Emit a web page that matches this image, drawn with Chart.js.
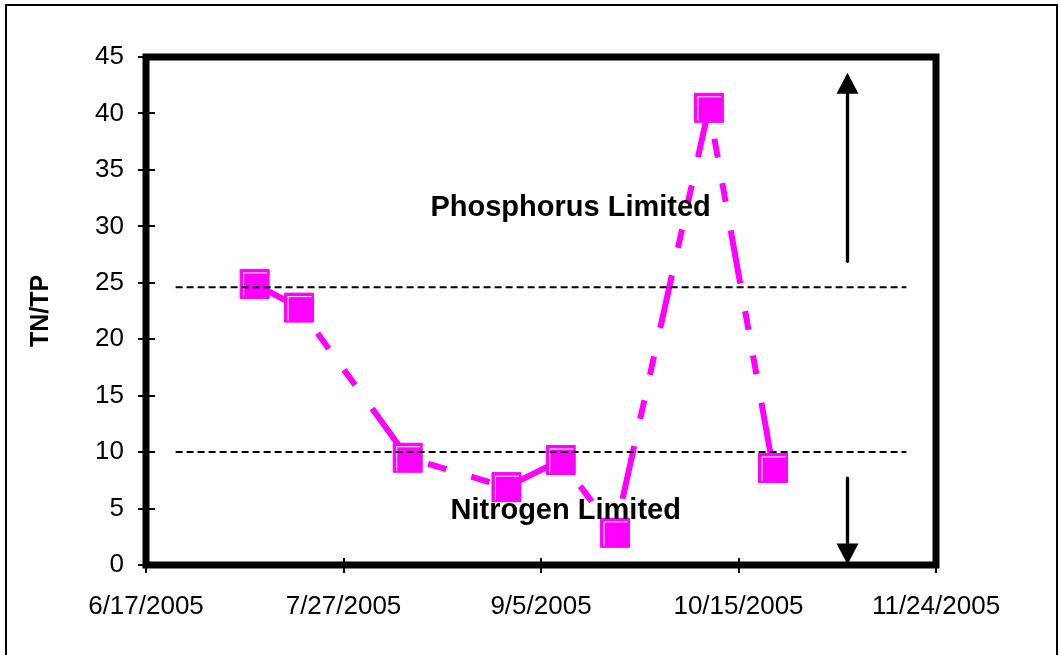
<!DOCTYPE html>
<html>
<head>
<meta charset="utf-8">
<script src="https://cdn.jsdelivr.net/npm/chart.js@4.4.1/dist/chart.umd.min.js"></script>
<style>
  html, body { margin: 0; padding: 0; background: #ffffff; }
  canvas { display: block; }
</style>
</head>
<body>
<canvas id="c" width="1060" height="655"></canvas>
<script>
// ---- data ----
const xTickLabels = ['6/17/2005', '7/27/2005', '9/5/2005', '10/15/2005', '11/24/2005'];
const sampleDates = ['7/9/2005', '7/18/2005', '8/9/2005', '8/29/2005', '9/9/2005', '9/20/2005', '10/9/2005', '10/22/2005'];
const tnTpValues = [24.9, 22.8, 9.5, 6.9, 9.3, 2.85, 40.5, 8.6];
const limitDates = ['6/23/2005', '11/18/2005'];
const phosphorusLimit = [24.6, 24.6];
const nitrogenLimit = [10, 10];
const yAxisTitle = 'TN/TP';
const regionLabels = ['Phosphorus Limited', 'Nitrogen Limited'];
const regionLabelDates = ['9/11/2005', '9/10/2005'];
const regionLabelValues = [30.9, 4.1];
const arrowDate = '11/6/2005';
const upArrowValues = [26.9, 43.6];
const downArrowValues = [7.7, 0.05];

// ---- helpers ----
function parseDay(s) {
  const p = s.split('/').map(Number);
  return Date.UTC(p[2], p[0] - 1, p[1]) / 86400000;
}
const originDay = parseDay(xTickLabels[0]);
const toX = s => parseDay(s) - originDay;
function fmtDay(v) {
  const d = new Date((originDay + v) * 86400000);
  return (d.getUTCMonth() + 1) + '/' + d.getUTCDate() + '/' + d.getUTCFullYear();
}

const mainData = sampleDates.map((d, i) => ({ x: toX(d), y: tnTpValues[i] }));
const pData = limitDates.map((d, i) => ({ x: toX(d), y: phosphorusLimit[i] }));
const nData = limitDates.map((d, i) => ({ x: toX(d), y: nitrogenLimit[i] }));

const FONT = "'Liberation Sans', Arial, sans-serif";
const MARKER_R = 20.5;

const decorPlugin = {
  id: 'decor',
  beforeDraw(chart) {
    const ctx = chart.ctx;
    ctx.save();
    ctx.fillStyle = '#ffffff';
    ctx.fillRect(0, 0, chart.width, chart.height);
    ctx.strokeStyle = '#000';
    ctx.lineWidth = 2;
    ctx.strokeRect(6, 5, 1051, 700);
    ctx.restore();
  },
  beforeDatasetsDraw(chart) {
    const ctx = chart.ctx;
    const a = chart.chartArea;
    const xs = chart.scales.x, ys = chart.scales.y;
    ctx.save();
    ctx.strokeStyle = '#000';
    ctx.lineWidth = 2;
    ctx.beginPath();
    ys.ticks.forEach(t => {
      const y = Math.round(ys.getPixelForValue(t.value));
      ctx.moveTo(a.left - 8, y);
      ctx.lineTo(a.left + 9, y);
    });
    xs.ticks.forEach(t => {
      const x = Math.round(xs.getPixelForValue(t.value));
      ctx.moveTo(x, a.bottom - 7);
      ctx.lineTo(x, a.bottom + 8);
    });
    ctx.stroke();
    ctx.lineWidth = 7;
    ctx.lineJoin = 'miter';
    ctx.strokeRect(a.left, a.top, a.right - a.left, a.bottom - a.top);
    ctx.restore();
  },
  afterDatasetDraw(chart, args) {
    if (args.index !== 2) return;
    const ctx = chart.ctx;
    const half = MARKER_R * Math.SQRT1_2;
    ctx.save();
    ctx.strokeStyle = '#ffffff';
    ctx.lineWidth = 1;
    ctx.beginPath();
    args.meta.data.forEach(p => {
      const l = p.x - half, t = p.y - half, r = p.x + half, b = p.y + half;
      ctx.moveTo(l + 3.5, t + 3);
      ctx.lineTo(l + 3.5, b - 1.5);
      ctx.moveTo(l + 3, t + 3.5);
      ctx.lineTo(r - 2, t + 3.5);
    });
    ctx.stroke();
    ctx.restore();
  },
  afterDatasetsDraw(chart) {
    const ctx = chart.ctx;
    const xs = chart.scales.x, ys = chart.scales.y;
    ctx.save();
    // region labels
    ctx.fillStyle = '#000';
    ctx.font = 'bold 29px ' + FONT;
    ctx.textAlign = 'center';
    ctx.textBaseline = 'alphabetic';
    regionLabels.forEach((txt, i) => {
      ctx.fillText(txt, xs.getPixelForValue(toX(regionLabelDates[i])), ys.getPixelForValue(regionLabelValues[i]));
    });
    // arrows
    const ax = Math.round(xs.getPixelForValue(toX(arrowDate))) + 0.5;
    function arrow(fromV, toV) {
      const y0 = ys.getPixelForValue(fromV);
      const y1 = ys.getPixelForValue(toV);
      const dir = y1 < y0 ? -1 : 1;
      const headLen = 21, headW = 11;
      ctx.strokeStyle = '#000';
      ctx.lineWidth = 3.3;
      ctx.lineCap = 'round';
      ctx.beginPath();
      ctx.moveTo(ax, y0);
      ctx.lineTo(ax, y1 - dir * headLen + dir * 2);
      ctx.stroke();
      ctx.fillStyle = '#000';
      ctx.beginPath();
      ctx.moveTo(ax, y1);
      ctx.lineTo(ax - headW, y1 - dir * headLen);
      ctx.lineTo(ax + headW, y1 - dir * headLen);
      ctx.closePath();
      ctx.fill();
    }
    arrow(upArrowValues[0], upArrowValues[1]);
    arrow(downArrowValues[0], downArrowValues[1]);
    ctx.restore();
  }
};

new Chart(document.getElementById('c'), {
  type: 'line',
  data: {
    datasets: [
      {
        label: 'P limit',
        data: pData,
        borderColor: '#000000',
        borderWidth: 2,
        borderDash: [7, 4],
        pointRadius: 0,
        fill: false,
        order: 0
      },
      {
        label: 'N limit',
        data: nData,
        borderColor: '#000000',
        borderWidth: 2,
        borderDash: [7, 4],
        pointRadius: 0,
        fill: false,
        order: 0
      },
      {
        label: 'TN/TP',
        data: mainData,
        borderColor: '#FF00FF',
        borderWidth: 6,
        borderDash: [54, 28, 19, 26, 19, 29],
        borderCapStyle: 'butt',
        borderJoinStyle: 'miter',
        tension: 0,
        fill: false,
        pointStyle: 'rect',
        pointRadius: MARKER_R,
        pointBackgroundColor: '#FF00FF',
        pointBorderColor: '#FF00FF',
        pointBorderWidth: 1,
        order: 1
      }
    ]
  },
  options: {
    responsive: false,
    animation: false,
    events: [],
    devicePixelRatio: 1,
    layout: { padding: { left: 0, top: 57, right: 124, bottom: 0 } },
    plugins: {
      legend: { display: false },
      tooltip: { enabled: false },
      title: { display: false }
    },
    scales: {
      x: {
        type: 'linear',
        min: 0,
        max: toX(xTickLabels[xTickLabels.length - 1]),
        afterFit(s) { s.height = 90; },
        grid: { display: false },
        border: { display: false },
        ticks: {
          stepSize: 40,
          autoSkip: false,
          maxRotation: 0,
          padding: 18,
          color: '#000',
          font: { family: FONT, size: 26 },
          callback: v => {
            const f = fmtDay(v);
            return xTickLabels.includes(f) ? f : '';
          }
        }
      },
      y: {
        type: 'linear',
        min: 0,
        max: 45,
        afterFit(s) { s.width = 146; },
        grid: { display: false },
        border: { display: false },
        ticks: {
          stepSize: 5,
          padding: 14,
          color: '#000',
          font: { family: FONT, size: 26 }
        },
        title: {
          display: true,
          text: yAxisTitle,
          color: '#000',
          font: { family: FONT, size: 25, weight: 'bold' },
          padding: { top: 26, bottom: 0 }
        }
      }
    }
  },
  plugins: [decorPlugin]
});
</script>
</body>
</html>
